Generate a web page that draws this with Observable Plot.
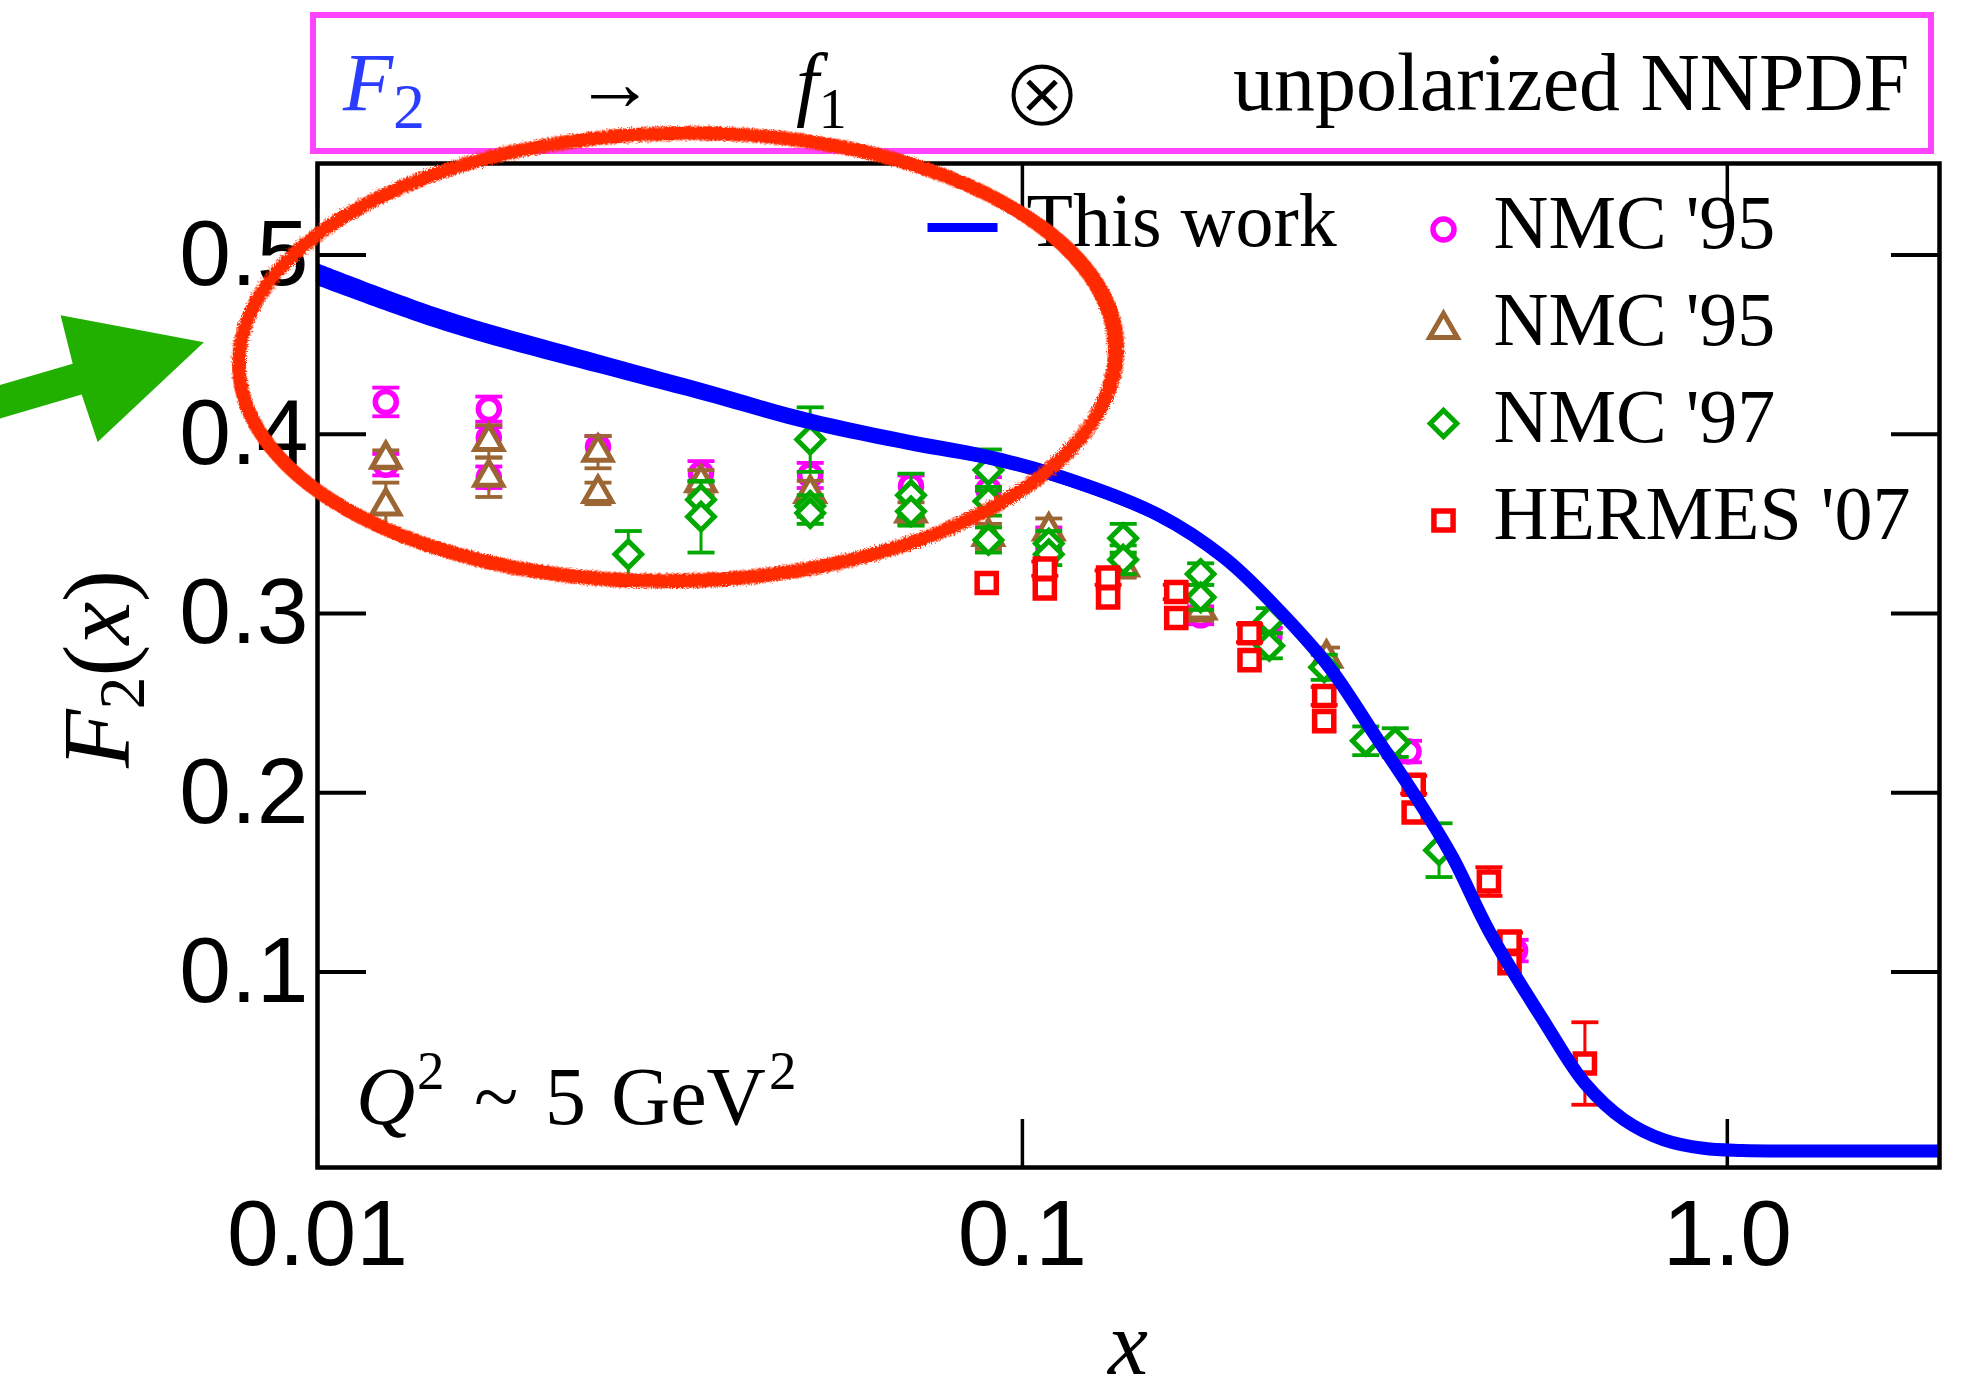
<!DOCTYPE html>
<html>
<head>
<meta charset="utf-8">
<script src="https://cdn.jsdelivr.net/npm/d3@7"></script>
<script src="https://cdn.jsdelivr.net/npm/@observablehq/plot@0.6"></script>
<style>
  html, body { margin: 0; padding: 0; background: #fff; }
  #chart { width: 1972px; height: 1396px; }
</style>
</head>
<body>
<div id="chart"></div>
<script>
// F2(x) of the proton at Q^2 ~ 5 GeV^2: fit band compared with NMC and HERMES data.

// ---- axes ----
const xTicks = [0.01, 0.1, 1];
const xTickLabels = ["0.01", "0.1", "1.0"];
const yTicks = [0.1, 0.2, 0.3, 0.4, 0.5];
const yTickLabels = ["0.1", "0.2", "0.3", "0.4", "0.5"];

// ---- fit ("This work"): central value and half-width of the band ----
const fitX   = [0.01, 0.0152, 0.0251, 0.0348, 0.0499, 0.0695, 0.0895, 0.1125, 0.1558, 0.1935, 0.2323, 0.2732, 0.3172, 0.3638, 0.407, 0.4607, 0.5515, 0.6279, 0.7144, 0.8128, 0.925, 1.05, 1.5, 2.0];
const fitF2  = [0.489, 0.463, 0.439, 0.424, 0.407, 0.395, 0.387, 0.3765, 0.355, 0.331, 0.301, 0.2695, 0.2314, 0.1961, 0.1645, 0.1219, 0.0715, 0.038, 0.0175, 0.0064, 0.0017, 0.0005, 0.0002, 0.0002];
const fitErr = [0.0062, 0.0057, 0.0052, 0.0048, 0.0045, 0.0043, 0.0041, 0.004, 0.004, 0.004, 0.004, 0.004, 0.004, 0.004, 0.0038, 0.0035, 0.003, 0.002, 0.0015, 0.001, 0.0005, 0.0005, 0.0005, 0.0005];

// ---- NMC '95 (circles) ----
const nmc95cX = [0.0125, 0.0125, 0.0175, 0.0175, 0.0175, 0.025, 0.035, 0.050, 0.0695, 0.0895, 0.109, 0.179, 0.224, 0.353, 0.50];
const nmc95cY = [0.418, 0.383, 0.414, 0.398, 0.376, 0.393, 0.378, 0.377, 0.371, 0.369, 0.342, 0.299, 0.287, 0.223, 0.112];
const nmc95cE = [0.008, 0.006, 0.007, 0.006, 0.006, 0.006, 0.007, 0.007, 0.006, 0.007, 0.006, 0.005, 0.005, 0.006, 0.006];

// ---- NMC '95 (triangles) ----
const nmc95tX = [0.0125, 0.0125, 0.0175, 0.0175, 0.025, 0.025, 0.035, 0.050, 0.0695, 0.0895, 0.109, 0.139, 0.179, 0.27];
const nmc95tY = [0.386, 0.360, 0.396, 0.376, 0.390, 0.367, 0.373, 0.367, 0.356, 0.343, 0.346, 0.326, 0.302, 0.275];
const nmc95tE = [0.005, 0.013, 0.009, 0.011, 0.009, 0.006, 0.007, 0.007, 0.006, 0.007, 0.007, 0.006, 0.006, 0.006];

// ---- NMC '97 (diamonds) ----
const nmc97X = [0.0276, 0.035, 0.035, 0.050, 0.050, 0.050, 0.0695, 0.0695, 0.0895, 0.0895, 0.0895, 0.109, 0.109, 0.139, 0.139, 0.179, 0.179, 0.224, 0.224, 0.268, 0.307, 0.338, 0.390];
const nmc97Y = [0.333, 0.3635, 0.354, 0.397, 0.360, 0.356, 0.366, 0.357, 0.380, 0.3626, 0.341, 0.339, 0.333, 0.342, 0.330, 0.322, 0.309, 0.296, 0.282, 0.270, 0.229, 0.228, 0.168];
const nmc97E = [0.013, 0.010, 0.020, 0.018, 0.006, 0.006, 0.012, 0.008, 0.0115, 0.008, 0.007, 0.007, 0.006, 0.008, 0.008, 0.006, 0.007, 0.007, 0.007, 0.007, 0.008, 0.008, 0.015];

// ---- HERMES '07 (squares) ----
const hermesX = [0.089, 0.1076, 0.1076, 0.1323, 0.1323, 0.1653, 0.1653, 0.210, 0.210, 0.268, 0.268, 0.359, 0.359, 0.459, 0.491, 0.491, 0.628];
const hermesY = [0.317, 0.325, 0.314, 0.320, 0.309, 0.312, 0.2975, 0.289, 0.274, 0.254, 0.240, 0.2045, 0.189, 0.1505, 0.117, 0.105, 0.049];
const hermesE = [0, 0.004, 0, 0.004, 0, 0.004, 0, 0.005, 0, 0.005, 0, 0.005, 0, 0.008, 0.005, 0, 0.023];

const fitLabel = "This work";

// ---- styling ----
const SANS = "'Liberation Sans', Arial, Helvetica, sans-serif";
const SERIF = "'Liberation Serif', 'Times New Roman', 'DejaVu Serif', serif";
const BLUE = "#0000ff";

const seriesList = [
  {label: "NMC '95",    x: nmc95cX, y: nmc95cY, e: nmc95cE, symbol: "circle",   r: 10.5, sw: 5.5, color: "#ff00ff"},
  {label: "NMC '95",    x: nmc95tX, y: nmc95tY, e: nmc95tE, symbol: "triangle", r: 10.3, sw: 5,   color: "#9b6534"},
  {label: "NMC '97",    x: nmc97X,  y: nmc97Y,  e: nmc97E,  symbol: "diamond2", r: 12,   sw: 5,   color: "#00a800"},
  {label: "HERMES '07", x: hermesX, y: hermesY, e: hermesE, symbol: "square",   r: 10.8, sw: 5.5, color: "#ff0000"}
];

// horizontal bar used for error-bar caps and the legend line
const hbar = (w) => ({draw(ctx) { ctx.moveTo(-w, 0); ctx.lineTo(w, 0); }});
const capSymbol = hbar(13.5);
const legendLineSymbol = hbar(35);

function seriesMarks(s) {
  const rows = s.x.map((x, i) => ({x, y: s.y[i], e: s.e[i]}));
  const withErr = rows.filter((d) => d.e > 0);
  return [
    Plot.ruleX(withErr, {x: "x", y1: (d) => d.y - d.e, y2: (d) => d.y + d.e, stroke: s.color, strokeWidth: 3}),
    Plot.dot(withErr, {x: "x", y: (d) => d.y - d.e, symbol: capSymbol, fill: "none", stroke: s.color, strokeWidth: 3.8}),
    Plot.dot(withErr, {x: "x", y: (d) => d.y + d.e, symbol: capSymbol, fill: "none", stroke: s.color, strokeWidth: 3.8}),
    Plot.dot(rows, {x: "x", y: "y", symbol: s.symbol, r: s.r, fill: "white", stroke: s.color, strokeWidth: s.sw})
  ];
}

const fitRows = fitX.map((x, i) => ({x, y: fitF2[i], e: fitErr[i]}));

// ---- legend (top-right of the frame) ----
const legendMarks = [
  Plot.dot([fitLabel], {frameAnchor: "top-left", dx: 645, dy: 64, symbol: legendLineSymbol, fill: "none", stroke: BLUE, strokeWidth: 9}),
  Plot.text([fitLabel], {frameAnchor: "top-left", dx: 709, dy: 82, text: (d) => d, textAnchor: "start", lineAnchor: "bottom", fontSize: 76, fontFamily: SERIF, fill: "black"})
];
seriesList.forEach((s, i) => {
  const rowDy = i * 97;
  legendMarks.push(
    Plot.dot([s.label], {frameAnchor: "top-left", dx: 1126, dy: 66 + rowDy + (s.symbol === "triangle" ? 3 : 0), symbol: s.symbol, r: s.r, fill: "white", stroke: s.color, strokeWidth: s.sw}),
    Plot.text([s.label], {frameAnchor: "top-left", dx: 1176, dy: 84 + rowDy, text: (d) => d, textAnchor: "start", lineAnchor: "bottom", fontSize: 76, fontFamily: SERIF, fill: "black"})
  );
});

// ---- rich text helper (italics, sub/superscripts) ----
function addRich(text, parts) {
  let shift = 0;
  for (const p of parts) {
    const t = text.append("tspan").text(p.t);
    const target = p.shift || 0;
    if (p.x != null) t.attr("x", p.x);
    if (target !== shift) { t.attr("dy", target - shift); shift = target; }
    if (p.italic) t.attr("font-style", "italic");
    if (p.size) t.attr("font-size", p.size);
    if (p.fill) t.attr("fill", p.fill);
  }
  return text;
}

// axis titles and the Q^2 note
function axisTitles(index, scales, values, dim) {
  const g = d3.create("svg:g").attr("font-family", SERIF).attr("fill", "black").attr("text-anchor", "start");
  const left = dim.marginLeft, right = dim.width - dim.marginRight;
  const top = dim.marginTop, bottom = dim.height - dim.marginBottom;
  const midY = (top + bottom) / 2, midX = (left + right) / 2;

  // y title: F2(x), rotated
  addRich(
    g.append("text").attr("transform", `translate(${left - 188},${midY + 4}) rotate(-90)`)
      .attr("text-anchor", "middle").attr("font-size", 96),
    [{t: "F", italic: true}, {t: "2", size: 66, shift: 15}, {t: "(", shift: 0}, {t: "x", italic: true}, {t: ")"}]
  );
  // x title
  g.append("text").attr("x", midX).attr("y", bottom + 207).attr("text-anchor", "middle")
    .attr("font-size", 90).attr("font-style", "italic").text("x");
  // Q^2 note
  const qx = left + 39, qy = bottom - 43;
  addRich(
    g.append("text").attr("x", qx).attr("y", qy).attr("font-size", 82).attr("text-anchor", "start"),
    [
      {t: "Q", italic: true},
      {t: "2", size: 55, shift: -35, x: qx + 61},
      {t: "~", shift: 0, x: qx + 118},
      {t: "5", x: qx + 189},
      {t: "GeV", x: qx + 255},
      {t: "2", size: 55, shift: -35, x: qx + 413}
    ]
  );
  return g.node();
}

// boxed heading above the frame
function heading(index, scales, values, dim) {
  const g = d3.create("svg:g").attr("font-family", SERIF).attr("fill", "black").attr("text-anchor", "start");
  const left = dim.marginLeft, right = dim.width - dim.marginRight, top = dim.marginTop;
  const bx = left - 4, by = 15, bw = right - 8 - bx, bh = top - 12 - by;
  g.append("rect").attr("x", bx).attr("y", by).attr("width", bw).attr("height", bh)
    .attr("fill", "white").attr("stroke", "#ff44ff").attr("stroke-width", 6);
  const base = 110;
  addRich(g.append("text").attr("x", bx + 30).attr("y", base).attr("font-size", 82).attr("fill", "#2a3cff"),
    [{t: "F", italic: true}, {t: "2", size: 64, shift: 18}]);
  g.append("text").attr("x", bx + 262).attr("y", base).attr("font-size", 80).text("\u2192");
  addRich(g.append("text").attr("x", bx + 483).attr("y", base).attr("font-size", 82),
    [{t: "f", italic: true}, {t: "1", size: 56, shift: 18}]);
  // circled times, slimmed with a white outline
  g.append("text").attr("x", bx + 729).attr("y", base + 16).attr("text-anchor", "middle")
    .attr("font-family", "'DejaVu Sans', sans-serif").attr("font-size", 98)
    .attr("stroke", "white").attr("stroke-width", 3).text("\u2297");
  g.append("text").attr("x", bx + 920).attr("y", base).attr("font-size", 82).text("unpolarized NNPDF");
  return g.node();
}

// hand-drawn callout: red ellipse around the low-x region and a green arrow
function callout(index, scales, values, dim) {
  const g = d3.create("svg:g");
  const defs = g.append("defs");
  const f = defs.append("filter").attr("id", "rough").attr("x", "-5%").attr("y", "-5%").attr("width", "110%").attr("height", "110%");
  f.append("feTurbulence").attr("type", "fractalNoise").attr("baseFrequency", 0.8).attr("numOctaves", 2).attr("seed", 3).attr("result", "noise");
  f.append("feDisplacementMap").attr("in", "SourceGraphic").attr("in2", "noise").attr("scale", 7);

  const cx = scales.x(0.0324), cy = scales.y(0.4427);
  const rx = 438, ry = 224;
  const e = g.append("g").attr("filter", "url(#rough)").attr("fill", "none").attr("stroke", "#ff2a00")
    .attr("transform", `rotate(-1.2,${cx},${cy})`);
  e.append("ellipse").attr("cx", cx).attr("cy", cy).attr("rx", rx).attr("ry", ry).attr("stroke-width", 14);
  e.append("ellipse").attr("cx", cx + 2).attr("cy", cy - 2).attr("rx", rx + 4).attr("ry", ry - 2).attr("stroke-width", 7);

  // arrow: tip just left of the ellipse, pointing up and to the right
  const tipX = cx - rx - 35, tipY = cy - 15;
  const pts = [[0, 0], [-130, -66], [-132, -16], [-260, -16], [-260, 16], [-132, 16], [-130, 66]];
  g.append("polygon").attr("points", pts.map((p) => p.join(",")).join(" "))
    .attr("fill", "#22b000")
    .attr("transform", `translate(${tipX},${tipY}) rotate(-16.3)`);
  return g.node();
}

const chart = Plot.plot({
  width: 1972,
  height: 1396,
  marginLeft: 317,
  marginRight: 33,
  marginTop: 163,
  marginBottom: 229,
  x: {type: "log", domain: [0.01, 2]},
  y: {domain: [-0.009, 0.551]},
  style: {background: "white", color: "black", fontFamily: SANS, overflow: "visible"},
  marks: [
    // tick labels and inward ticks on all four sides
    Plot.axisY(yTicks, {anchor: "left", tickSize: -49, tickPadding: 58, tickFormat: (d) => yTickLabels[yTicks.indexOf(d)], fontSize: 93, fontFamily: SANS, strokeWidth: 4, label: null}),
    Plot.axisY(yTicks, {anchor: "right", tickSize: -49, tickFormat: () => "", strokeWidth: 4, label: null}),
    Plot.axisX(xTicks, {anchor: "bottom", tickSize: -48, tickPadding: 79, tickFormat: (d) => xTickLabels[xTicks.indexOf(d)], fontSize: 93, fontFamily: SANS, strokeWidth: 3.5, label: null}),
    Plot.axisX(xTicks, {anchor: "top", tickSize: -45, tickFormat: () => "", strokeWidth: 3.5, label: null}),

    // measurements
    ...seriesList.flatMap(seriesMarks),

    // fit band
    Plot.areaY(fitRows, {x: "x", y1: (d) => d.y - d.e, y2: (d) => d.y + d.e, fill: BLUE, curve: "catmull-rom"}),
    Plot.line(fitRows, {x: "x", y: "y", stroke: BLUE, strokeWidth: 13, strokeLinecap: "butt", curve: "catmull-rom"}),

    Plot.frame({stroke: "black", strokeWidth: 4.5}),
    ...legendMarks,
    axisTitles,
    heading,
    callout
  ]
});

document.getElementById("chart").appendChild(chart);
</script>
</body>
</html>
